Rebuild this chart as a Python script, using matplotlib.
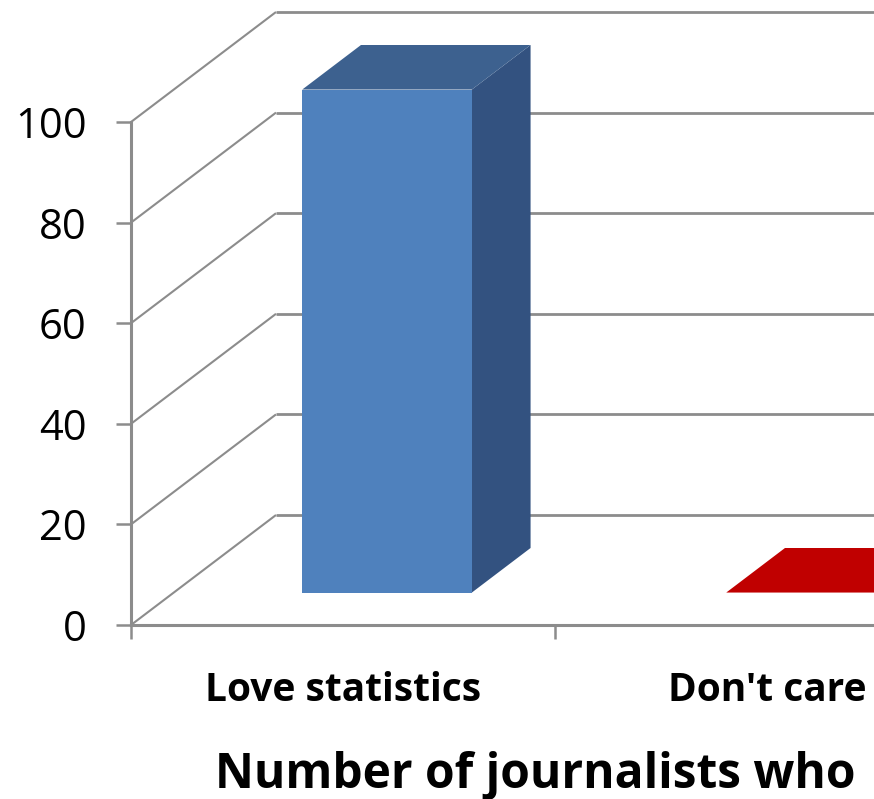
import matplotlib
matplotlib.use("Agg")
import matplotlib.pyplot as plt
from matplotlib.patches import Polygon

categories = ["Love statistics", "Don't care"]
values = [100, 0]
front_colors = ["#4f81bd", "#c00000"]
side_colors = ["#335280", "#8a0000"]
top_colors = ["#3d618f", "#c00000"]
y_ticks = [0, 20, 40, 60, 80, 100]
x_title = "Number of journalists who"

W, H = 874, 799
GRID = "#8c8c8c"
plt.rcParams["font.family"] = ["Open Sans", "DejaVu Sans"]

fig = plt.figure(figsize=(W / 100, H / 100), dpi=100)
fig.patch.set_facecolor("white")
CAT_PX = 424.0
L, B, T = 131.0, 625.0, 122.0
ax = fig.add_axes([L / W, (H - B) / H, (W - L) / W, (B - T) / H])
ax.set_xlim(-0.5, -0.5 + (W - L) / CAT_PX)
ax.set_ylim(0, 100)
ax.patch.set_alpha(0)
for s in ("top", "right"):
    ax.spines[s].set_visible(False)
for s in ("left", "bottom"):
    ax.spines[s].set_color(GRID)
    ax.spines[s].set_linewidth(2.2)

DX = 145.0 / CAT_PX           # full floor depth in category units
DY = 110.0 / ((B - T) / 100)  # full floor depth in value units
def proj(x, v, d):
    return (x + d * DX, v + d * DY)

# walls and gridlines
for v in y_ticks:
    p0, p1 = proj(-0.5, v, 0), proj(-0.5, v, 1)
    ax.plot([p0[0], p1[0]], [p0[1], p1[1]], color=GRID, lw=1.5, clip_on=False, zorder=1,
            solid_capstyle="butt")
    p2 = proj(3, v, 1)
    ax.plot([p1[0], p2[0]], [p1[1], p2[1]], color=GRID, lw=2.0, clip_on=False, zorder=1,
            solid_capstyle="butt")

# bars
BW = 0.4
D0, D1 = 0.295, 0.70
for i, (v, fc, sc, tc) in enumerate(zip(values, front_colors, side_colors, top_colors)):
    a, b = i - BW / 2 + 0.003, i + BW / 2 + 0.003
    if v > 0:
        ax.add_patch(Polygon([proj(b, 0, D0), proj(b, 0, D1), proj(b, v, D1), proj(b, v, D0)],
                             fc=sc, ec="none", zorder=3, clip_on=False))
        ax.add_patch(Polygon([proj(a, 0, D0), proj(b, 0, D0), proj(b, v, D0), proj(a, v, D0)],
                             fc=fc, ec="none", zorder=4, clip_on=False))
    ax.add_patch(Polygon([proj(a, v, D0), proj(b, v, D0), proj(b, v, D1), proj(a, v, D1)],
                         fc=tc, ec="none", zorder=3, clip_on=False))

ax.set_yticks(y_ticks)
ax.set_xticks([-0.5, 0.5])
ax.set_xticklabels(["", ""])
ax.tick_params(axis="y", length=10.8, width=1.8, color=GRID, labelsize=30, pad=21, labelcolor="black")
ax.tick_params(axis="x", length=10, width=1.8, color=GRID)

for i, c in enumerate(categories):
    ax.annotate(c, xy=(i, 0), xytext=(0, -33), textcoords="offset points", ha="center", va="top",
                fontsize=28, fontweight="bold", annotation_clip=False)
fig.text(535 / W, 1 - 776 / H, x_title, ha="center", va="center", fontsize=34.5, fontweight="bold")

fig.savefig("out.png", dpi=100)
